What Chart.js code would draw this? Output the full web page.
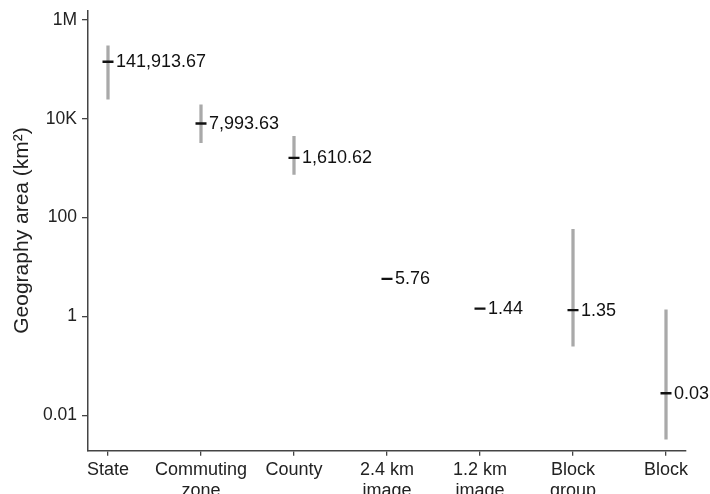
<!DOCTYPE html>
<html>
<head>
<meta charset="utf-8">
<script src="https://cdn.jsdelivr.net/npm/chart.js@4.4.1/dist/chart.umd.min.js"></script>
<style>
  html, body { margin: 0; padding: 0; background: #fff; overflow: hidden; }
  #wrap { width: 710px; height: 510px; position: relative; }
</style>
</head>
<body>
<div id="wrap"><canvas id="myChart"></canvas></div>
<script>
// categorias del eje x (varias lineas)
var categorias = [['State'], ['Commuting', 'zone'], ['County'], ['2.4 km', 'image'], ['1.2 km', 'image'], ['Block', 'group'], ['Block']];
// mediana de area (km2)
var medianas = [141913.67, 7993.63, 1610.62, 5.76, 1.44, 1.35, 0.028];
var etiquetas = ['141,913.67', '7,993.63', '1,610.62', '5.76', '1.44', '1.35', '0.03'];
// rango (gris)
var rangoBajo = [24700, 3280, 743, null, null, 0.25, 0.0033];
var rangoAlto = [299000, 19100, 4400, null, null, 58, 1.37];
// ticks del eje y
var ticksY = [0.01, 1, 100, 10000, 1000000];
var ticksYTexto = ['0.01', '1', '100', '10K', '1M'];

var fuente = "'Liberation Sans', Arial, Helvetica, sans-serif";

var datosRango = [];
var datosMediana = [];
for (var i = 0; i < categorias.length; i++) {
    if (rangoBajo[i] !== null) {
        datosRango.push({ x: i, y: [rangoBajo[i], rangoAlto[i]] });
    }
    datosMediana.push({ x: i, y: medianas[i] });
}

var pluginEtiquetas = {
    id: 'etiquetas',
    afterDatasetsDraw: function (chart) {
        var ctx = chart.ctx;
        var sx = chart.scales.x, sy = chart.scales.y;
        ctx.save();
        ctx.font = '18px ' + fuente;
        ctx.fillStyle = '#111';
        ctx.textAlign = 'left';
        ctx.textBaseline = 'middle';
        for (var i = 0; i < medianas.length; i++) {
            ctx.fillText(etiquetas[i], sx.getPixelForValue(i) + 8, sy.getPixelForValue(medianas[i]) + 0.5);
        }
        ctx.restore();
    }
};

var ctx = document.getElementById('myChart').getContext('2d');
var myChart = new Chart(ctx, {
    type: 'scatter',
    data: {
        datasets: [{
            type: 'scatter',
            data: datosMediana,
            pointStyle: 'line',
            pointRadius: 5.5,
            pointHoverRadius: 5.5,
            borderColor: '#111',
            backgroundColor: '#111',
            pointBorderWidth: 2.3,
            order: 0
        }, {
            type: 'bar',
            data: datosRango,
            backgroundColor: '#a9a9a9',
            borderWidth: 0,
            barThickness: 2.6,
            order: 1
        }]
    },
    options: {
        responsive: true,
        maintainAspectRatio: false,
        animation: false,
        layout: { padding: { top: 9.5, right: 24, left: 0, bottom: 0 } },
        plugins: {
            legend: { display: false },
            tooltip: { enabled: false }
        },
        scales: {
            x: {
                type: 'linear',
                min: -0.215,
                max: 6.215,
                offset: false,
                afterBuildTicks: function (scale) {
                    scale.ticks = categorias.map(function (c, i) { return { value: i }; });
                },
                afterFit: function (scale) { scale.height = 59.3; },
                ticks: {
                    callback: function (v) { return categorias[v]; },
                    color: '#222',
                    font: { family: fuente, size: 18, lineHeight: 1.13 },
                    padding: 4.5,
                    maxRotation: 0,
                    autoSkip: false
                },
                grid: { display: true, drawOnChartArea: false, drawTicks: true, tickLength: 5, color: '#444', lineWidth: 1.3, offset: false },
                border: { display: true, color: '#444', width: 1.5 }
            },
            y: {
                type: 'logarithmic',
                min: 0.00193,
                max: 1560000,
                afterBuildTicks: function (scale) {
                    scale.ticks = ticksY.map(function (v) { return { value: v }; });
                },
                afterFit: function (scale) { scale.width = 88; },
                ticks: {
                    callback: function (v) {
                        var k = ticksY.indexOf(v);
                        return k >= 0 ? ticksYTexto[k] : '';
                    },
                    color: '#222',
                    font: { family: fuente, size: 17.5, lineHeight: 0.6 },
                    padding: 5
                },
                grid: { display: true, drawOnChartArea: false, drawTicks: true, tickLength: 6, color: '#444', lineWidth: 1.3 },
                border: { display: true, color: '#444', width: 1.5 },
                title: {
                    display: true,
                    text: 'Geography area (km²)',
                    color: '#222',
                    font: { family: fuente, size: 21 },
                    padding: { top: 10, bottom: 0 }
                }
            }
        }
    },
    plugins: [pluginEtiquetas]
});
</script>
</body>
</html>
